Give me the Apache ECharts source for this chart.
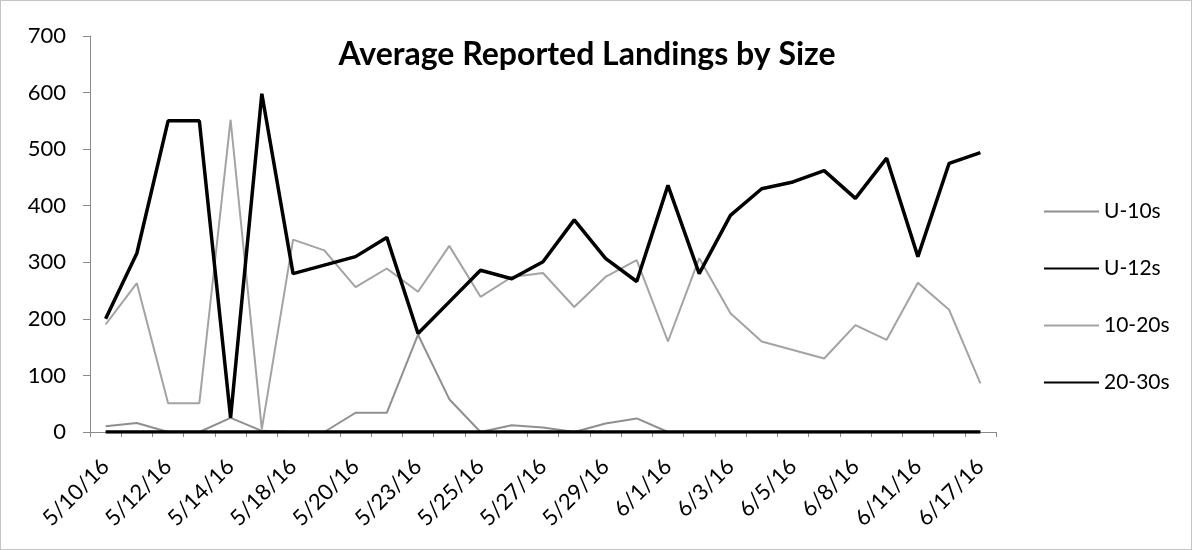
<!DOCTYPE html>
<html>
<head>
<meta charset="utf-8">
<script src="https://cdn.jsdelivr.net/npm/echarts@6/dist/echarts.min.js"></script>
<style>
html,body{margin:0;padding:0;background:#fff;}
#chart{width:1190px;height:548px;border:1px solid #c4c4c4;}
</style>
</head>
<body>
<div id="chart"></div>
<script>
const categories = ["5/10/16","5/11/16","5/12/16","5/13/16","5/14/16","5/16/16","5/18/16","5/19/16","5/20/16","5/22/16",
  "5/23/16","5/24/16","5/25/16","5/26/16","5/27/16","5/28/16","5/29/16","5/31/16","6/1/16","6/2/16",
  "6/3/16","6/4/16","6/5/16","6/7/16","6/8/16","6/10/16","6/11/16","6/14/16","6/17/16"];
const u10s = [10,16,0,0,25,2,0,0,34,34,172,58,0,12,8,0,15,24,0,0,0,0,0,0,0,0,0,0,0];
const u12s = [200,316,550,550,25,598,280,295,310,344,174,230,286,271,301,375,307,266,436,280,383,430,442,462,413,484,310,475,494];
const s10_20 = [190,263,51,51,552,5,340,321,256,289,248,329,239,274,281,221,274,304,160,307,210,160,145,130,189,163,264,216,86];
const s20_30 = [0,0,0,0,0,0,0,0,0,0,0,0,0,0,0,0,0,0,0,0,0,0,0,0,0,0,0,0,0];
const yTicks = {min:0, max:700, interval:100};

const FONT = 'Lato, "Open Sans", sans-serif';
const chart = echarts.init(document.getElementById('chart'), null, {renderer:'canvas'});
function line(name, data, color, width, z){
  return {name, type:'line', data, symbol:'none', z,
    lineStyle:{color, width}, itemStyle:{color}, emphasis:{disabled:true}};
}
chart.setOption({
  animation:false,
  backgroundColor:'#fff',
  textStyle:{fontFamily:FONT},
  title:{text:'Average Reported Landings by Size', left:581, top:33, textAlign:'center',
    textStyle:{fontFamily:FONT, fontWeight:'bold', fontSize:32, color:'#000'}},
  grid:{left:89, right:195, top:35, bottom:117, containLabel:false},
  legend:{orient:'vertical', left:1042, top:200, padding:0, itemWidth:55, itemHeight:14, itemGap:36,
    itemStyle:{opacity:0},
    textStyle:{fontFamily:FONT, fontSize:21, color:'#000'},
    data:['U-10s','U-12s','10-20s','20-30s']},
  xAxis:{type:'category', data:categories, boundaryGap:true,
    axisLine:{lineStyle:{color:'#8a8a8a', width:1}},
    axisTick:{show:true, interval:0, length:5, lineStyle:{color:'#8a8a8a'}},
    axisLabel:{interval:1, rotate:45, fontFamily:FONT, fontSize:22, color:'#000', margin:31}},
  yAxis:{type:'value', min:yTicks.min, max:yTicks.max, interval:yTicks.interval,
    splitLine:{show:false},
    axisLine:{show:true, lineStyle:{color:'#8a8a8a', width:1}},
    axisTick:{show:true, length:7, lineStyle:{color:'#8a8a8a'}},
    axisLabel:{fontFamily:FONT, fontSize:22, color:'#000', margin:24}},
  series:[
    line('U-10s', u10s, '#8f8f8f', 2, 2),
    line('U-12s', u12s, '#000000', 3.5, 4),
    line('10-20s', s10_20, '#a3a3a3', 2, 3),
    line('20-30s', s20_30, '#000000', 3.5, 5)
  ]
});
</script>
</body>
</html>
